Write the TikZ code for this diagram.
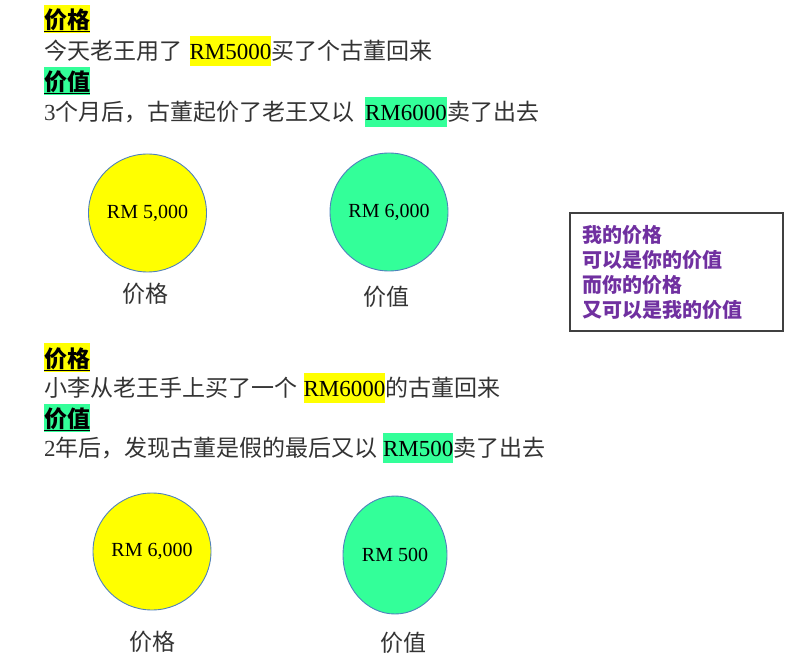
\documentclass[tikz,border=0pt]{standalone}
\usepackage{fontspec}
\setmainfont{Liberation Serif}
\newfontfamily\cjk{Noto Sans CJK SC}
\usetikzlibrary{positioning,shapes.geometric}
\definecolor{hlyellow}{RGB}{255,255,0}
\definecolor{hlgreen}{RGB}{51,255,153}
\definecolor{rimblue}{RGB}{79,129,189}
\definecolor{notepurple}{RGB}{112,48,160}

\begin{document}
\begin{tikzpicture}[x=1pt,y=-1pt]

\tikzset{story/.style={font=\cjk\fontsize{23}{28}\selectfont,text=black!80,inner sep=0pt,text height=24pt,text depth=6pt,anchor=west},
money/.style={font=\fontsize{23}{28}\selectfont,text=black,inner sep=0pt,text height=24pt,text depth=6pt},
heading/.style={font=\cjk\bfseries\fontsize{23}{28}\selectfont,text=black,inner sep=0pt,text height=24pt,text depth=4pt,anchor=west},
coin/.style={ellipse,draw=rimblue,line width=0.9pt,inner sep=0pt,font=\fontsize{20}{24}\selectfont},
coinlabel/.style={font=\cjk\fontsize{23}{28}\selectfont,text=black!80}}

\useasboundingbox (0,0) rectangle (806,668);

% First story
\node[heading,fill=hlyellow] (p1) at (44,19) {价格};
\node[story] (s1a) at (44,51) {今天老王用了};
\node[money,fill=hlyellow,right=7pt of s1a] (s1b) {RM5000};
\node[story,right=0pt of s1b] (s1c) {买了个古董回来};
\node[heading,fill=hlgreen] (v1) at (44,81) {价值};
\node[story] (s2a) at (44,112) {{\rmfamily 3}个月后，古董起价了老王又以};
\node[money,fill=hlgreen,right=10pt of s2a] (s2b) {RM6000};
\node[story,right=0pt of s2b] (s2c) {卖了出去};

% Second story
\node[heading,fill=hlyellow] (p2) at (44,357.5) {价格};
\node[story] (s3a) at (44,387.5) {小李从老王手上买了一个};
\node[money,fill=hlyellow,right=6pt of s3a] (s3b) {RM6000};
\node[story,right=0pt of s3b] (s3c) {的古董回来};
\node[heading,fill=hlgreen] (v2) at (44,417.5) {价值};
\node[story] (s4a) at (44,447.5) {{\rmfamily 2}年后，发现古董是假的最后又以};
\node[money,fill=hlgreen,right=5pt of s4a] (s4b) {RM500};
\node[story,right=0pt of s4b] (s4c) {卖了出去};

% Underlines
\foreach \h in {p1,v1,p2,v2} \draw[line width=1.1pt] ([yshift=1.5pt]\h.south west) -- ([yshift=1.5pt]\h.south east);

% Coins
\node[coin,fill=hlyellow,minimum width=118pt,minimum height=118pt] (c1) at (147.5,213) {RM 5,000};
\node[coin,fill=hlgreen,minimum width=118pt,minimum height=118pt] (c2) at (389,212) {RM 6,000};
\node[coin,fill=hlyellow,minimum width=118pt,minimum height=117pt] (c3) at (152,551.5) {RM 6,000};
\node[coin,fill=hlgreen,minimum width=104pt,minimum height=118pt] (c4) at (395,555) {RM 500};

\node[coinlabel] (c1l) at (145,294) {价格};
\node[coinlabel] (c2l) at (386,297) {价值};
\node[coinlabel] (c3l) at (152,642) {价格};
\node[coinlabel] (c4l) at (403,643) {价值};

% Note
\node[draw=black!75,line width=1.3pt,minimum width=213pt,minimum height=118pt,inner xsep=12pt,text width=189pt,align=left,
  font=\cjk\bfseries\fontsize{20}{25}\selectfont,text=notepurple] (note) at (676.5,272)
  {我的价格\\可以是你的价值\\而你的价格\\又可以是我的价值};

\end{tikzpicture}
\end{document}
